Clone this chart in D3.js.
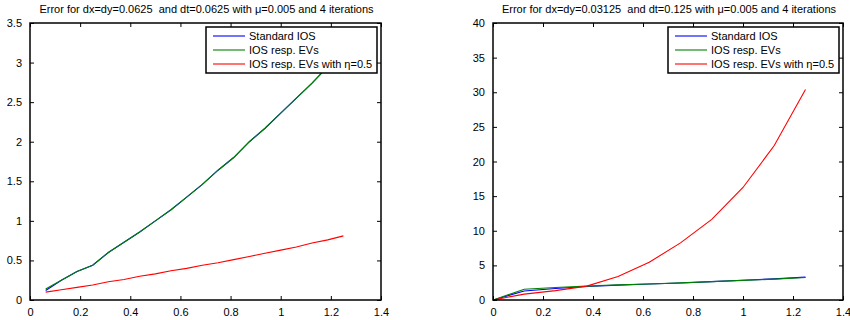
<!DOCTYPE html>
<html><head><meta charset="utf-8">
<script src="https://cdn.jsdelivr.net/npm/d3@7"></script>
<style>
body{margin:0;background:#fff;}
svg{display:block;font-family:"Liberation Sans",Arial,Helvetica,sans-serif;}
text{white-space:pre;}
</style></head>
<body><svg id="c" width="850" height="320"></svg>
<script>
// Left panel data (dx=dy=0.0625)
const xLeft = [0.0625,0.125,0.1875,0.25,0.3125,0.375,0.4375,0.5,0.5625,0.625,0.6875,0.75,0.8125,0.875,0.9375,1.0,1.0625,1.125,1.1875,1.25];
const leftStandard = [0.12,0.25,0.36,0.44,0.60,0.73,0.86,1.00,1.14,1.30,1.46,1.64,1.80,2.00,2.17,2.36,2.55,2.74,2.95,3.16];
const leftResp     = [0.14,0.25,0.36,0.44,0.60,0.73,0.86,1.00,1.14,1.30,1.46,1.64,1.80,2.00,2.17,2.36,2.55,2.74,2.95,3.16];
const leftEta      = [0.10,0.13,0.16,0.19,0.23,0.26,0.30,0.33,0.37,0.40,0.44,0.47,0.51,0.55,0.59,0.63,0.67,0.72,0.76,0.81];

// Right panel data (dx=dy=0.03125)
const xRight = [0,0.125,0.25,0.375,0.5,0.625,0.75,0.875,1.0,1.125,1.25];
const rightStandard = [0,1.30,1.65,1.95,2.15,2.30,2.45,2.65,2.85,3.05,3.30];
const rightResp     = [0,1.55,1.80,2.00,2.18,2.32,2.47,2.65,2.83,3.02,3.25];
const rightEta      = [0,0.85,1.35,2.00,3.40,5.45,8.25,11.65,16.25,22.3,30.4];

const xTicks = [0,0.2,0.4,0.6,0.8,1,1.2,1.4];
const yTicksLeft = [0,0.5,1,1.5,2,2.5,3,3.5];
const yTicksRight = [0,5,10,15,20,25,30,35,40];
const legendLabels = ["Standard IOS","IOS resp. EVs","IOS resp. EVs with η=0.5"];
const colors = ["#0000ff","#008000","#ff0000"];

const svg = d3.select("#c");

function panel(opts){
  const {x0,x1,y0,y1,title,xs,series,yMax,yTicks} = opts;
  const g = svg.append("g");
  const x = d3.scaleLinear().domain([0,1.4]).range([x0,x1]);
  const y = d3.scaleLinear().domain([0,yMax]).range([y1,y0]);
  const clipId = "clip"+x0;
  g.append("clipPath").attr("id",clipId).append("rect")
    .attr("x",x0).attr("y",y0).attr("width",x1-x0).attr("height",y1-y0);
  const line = d3.line().x((d,i)=>x(xs[i])).y(d=>y(d));
  series.forEach((s,k)=>{
    g.append("path").attr("d",line(s)).attr("fill","none")
      .attr("stroke",colors[k]).attr("stroke-width",1.1)
      .attr("clip-path","url(#"+clipId+")");
  });
  const tickStyle = sel=>{
    sel.select(".domain").remove();
    sel.selectAll("text").attr("font-size",11).attr("fill","#000")
      .attr("font-family","'Liberation Sans',Arial,sans-serif");
    sel.selectAll("line").attr("stroke","#000");
  };
  g.append("g").attr("transform",`translate(0,${y1})`)
    .call(d3.axisBottom(x).tickValues(xTicks).tickSize(-4).tickPadding(8).tickFormat(d3.format("~g")))
    .call(tickStyle);
  g.append("g").attr("transform",`translate(0,${y0})`)
    .call(d3.axisTop(x).tickValues(xTicks).tickSize(-4).tickFormat(""))
    .call(tickStyle);
  g.append("g").attr("transform",`translate(${x0},0)`)
    .call(d3.axisLeft(y).tickValues(yTicks).tickSize(-4).tickPadding(8).tickFormat(d3.format("~g")))
    .call(tickStyle);
  g.append("g").attr("transform",`translate(${x1},0)`)
    .call(d3.axisRight(y).tickValues(yTicks).tickSize(-4).tickFormat(""))
    .call(tickStyle);
  g.append("rect").attr("x",x0).attr("y",y0).attr("width",x1-x0).attr("height",y1-y0)
    .attr("fill","none").attr("stroke","#000").attr("stroke-width",1.5);
  g.append("text").attr("x",(x0+x1)/2+1).attr("y",13).attr("text-anchor","middle")
    .attr("font-size",11).text(title);
  const lx = x1-175, ly = y0+4, lw = 171, lh = 46;
  const lg = g.append("g");
  lg.append("rect").attr("x",lx).attr("y",ly).attr("width",lw).attr("height",lh)
    .attr("fill","#fff").attr("stroke","#000").attr("stroke-width",1.5);
  legendLabels.forEach((t,k)=>{
    const yy = ly+9+k*14;
    lg.append("line").attr("x1",lx+7).attr("x2",lx+39).attr("y1",yy).attr("y2",yy)
      .attr("stroke",colors[k]).attr("stroke-width",1.1);
    lg.append("text").attr("x",lx+43).attr("y",yy+4).attr("font-size",11).text(t);
  });
}

panel({x0:30,x1:381,y0:23,y1:300,yMax:3.5,yTicks:yTicksLeft,xs:xLeft,
  series:[leftStandard,leftResp,leftEta],
  title:"Error for dx=dy=0.0625  and dt=0.0625 with μ=0.005 and 4 iterations"});
panel({x0:493,x1:843,y0:23,y1:300,yMax:40,yTicks:yTicksRight,xs:xRight,
  series:[rightStandard,rightResp,rightEta],
  title:"Error for dx=dy=0.03125  and dt=0.125 with μ=0.005 and 4 iterations"});
</script></body></html>
